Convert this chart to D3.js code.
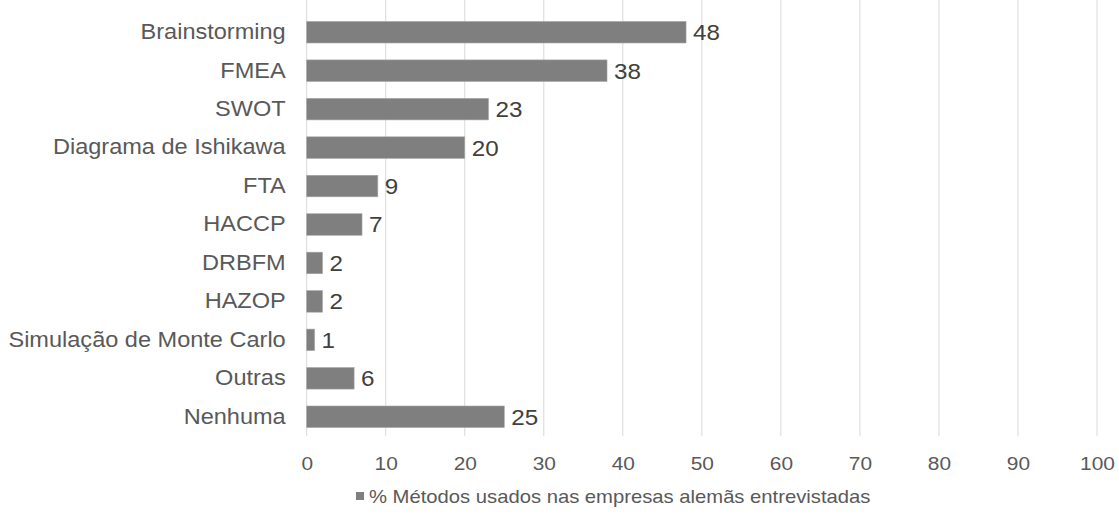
<!DOCTYPE html>
<html>
<head>
<meta charset="utf-8">
<script src="https://cdn.jsdelivr.net/npm/d3@7"></script>
<style>
  body { margin: 0; background: #fff; }
  svg { display: block; font-family: "Liberation Sans", Arial, sans-serif; }
</style>
</head>
<body>
<script>
const width = 1119;
const height = 515;

// Data
const categories = ["Brainstorming", "FMEA", "SWOT", "Diagrama de Ishikawa", "FTA", "HACCP",
  "DRBFM", "HAZOP", "Simulação de Monte Carlo", "Outras", "Nenhuma"];
const values = [48, 38, 23, 20, 9, 7, 2, 2, 1, 6, 25];
const xTicks = [0, 10, 20, 30, 40, 50, 60, 70, 80, 90, 100];
const seriesName = "% Métodos usados nas empresas alemãs entrevistadas";

const margin = {top: 13, right: 22, bottom: 79, left: 306.7};
const stretch = "scale(1.1,1)"; // text in the original looks a bit wide

const svg = d3.select("body")
  .append("svg")
  .attr("width", width)
  .attr("height", height);

const x = d3.scaleLinear()
  .domain([0, 100])
  .range([margin.left, width - margin.right]);

const y = d3.scaleBand()
  .domain(categories)
  .range([margin.top, height - margin.bottom])
  .paddingInner(0.44)
  .paddingOuter(0.22);

// Gridlines
svg.append("g")
  .selectAll("line")
  .data(xTicks)
  .join("line")
  .attr("x1", d => x(d))
  .attr("x2", d => x(d))
  .attr("y1", margin.top - 13)
  .attr("y2", height - margin.bottom)
  .attr("stroke", "#d9d9d9")
  .attr("stroke-width", 1);

// Bars
svg.append("g")
  .selectAll("rect")
  .data(values)
  .join("rect")
  .attr("x", x(0))
  .attr("y", (d, i) => y(categories[i]))
  .attr("width", d => x(d) - x(0))
  .attr("height", y.bandwidth())
  .attr("fill", "#7f7f7f")
  .attr("stroke", "#a6a6a6")
  .attr("stroke-width", 0.6);

// Value labels
svg.append("g")
  .selectAll("text")
  .data(values)
  .join("text")
  .attr("transform", (d, i) => `translate(${x(d) + 7},${y(categories[i]) + y.bandwidth() / 2}) ${stretch}`)
  .attr("dy", "0.36em")
  .attr("fill", "#404040")
  .attr("font-size", 22)
  .text(d => d);

// Category axis
const yAxis = svg.append("g")
  .attr("transform", `translate(${margin.left - 21},0)`)
  .call(d3.axisLeft(y).tickSize(0).tickPadding(0));
yAxis.select(".domain").remove();
yAxis.selectAll("text")
  .attr("transform", stretch)
  .attr("fill", "#595959")
  .attr("font-size", 21.4)
  .attr("font-family", "Liberation Sans, Arial, sans-serif");

// Value axis
const xAxis = svg.append("g")
  .attr("transform", `translate(0,${height - margin.bottom})`)
  .call(d3.axisBottom(x).tickValues(xTicks).tickSize(0).tickPadding(21));
xAxis.select(".domain").remove();
xAxis.selectAll("text")
  .attr("transform", stretch)
  .attr("fill", "#595959")
  .attr("font-size", 19)
  .attr("font-family", "Liberation Sans, Arial, sans-serif");

// Legend
const legend = svg.append("g").attr("transform", "translate(356,496)");
legend.append("rect")
  .attr("x", 0)
  .attr("y", -4)
  .attr("width", 8)
  .attr("height", 8)
  .attr("fill", "#7f7f7f");
legend.append("text")
  .attr("transform", `translate(13,0) ${stretch}`)
  .attr("dy", "0.36em")
  .attr("fill", "#595959")
  .attr("font-size", 18.4)
  .text(seriesName);
</script>
</body>
</html>
